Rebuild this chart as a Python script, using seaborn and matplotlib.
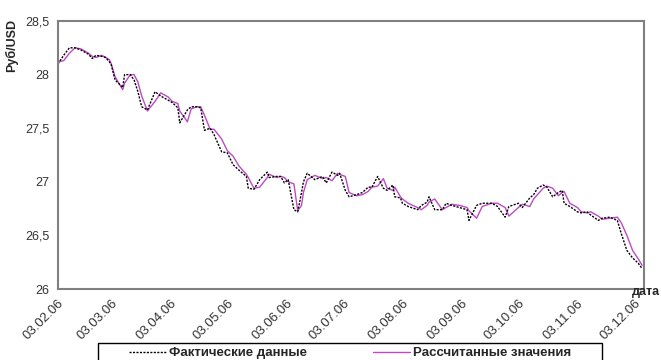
import matplotlib
matplotlib.use("Agg")
import matplotlib.pyplot as plt
import matplotlib.dates as mdates
from matplotlib.patches import Rectangle
from matplotlib.ticker import FuncFormatter, MultipleLocator
import seaborn as sns
import pandas as pd

dates = [
    "03.02.06", "06.02.06", "09.02.06", "12.02.06", "15.02.06", "17.02.06", "19.02.06", "21.02.06",
    "23.02.06", "26.02.06", "28.02.06", "02.03.06", "03.03.06", "05.03.06", "09.03.06", "10.03.06",
    "13.03.06", "15.03.06", "17.03.06", "19.03.06", "22.03.06", "26.03.06", "29.03.06", "02.04.06",
    "04.04.06", "07.04.06", "08.04.06", "12.04.06", "14.04.06", "17.04.06", "19.04.06", "21.04.06",
    "24.04.06", "26.04.06", "30.04.06", "03.05.06", "06.05.06", "09.05.06", "11.05.06", "13.05.06",
    "14.05.06", "17.05.06", "20.05.06", "24.05.06", "25.05.06", "29.05.06", "31.05.06", "02.06.06",
    "04.06.06", "07.06.06", "09.06.06", "11.06.06", "12.06.06", "14.06.06", "18.06.06", "22.06.06",
    "24.06.06", "27.06.06", "30.06.06", "01.07.06", "04.07.06", "06.07.06", "10.07.06", "13.07.06",
    "16.07.06", "18.07.06", "21.07.06", "24.07.06", "26.07.06", "29.07.06", "30.07.06", "02.08.06",
    "03.08.06", "06.08.06", "11.08.06", "13.08.06", "16.08.06", "17.08.06", "20.08.06", "24.08.06",
    "26.08.06", "29.08.06", "02.09.06", "06.09.06", "07.09.06", "11.09.06", "14.09.06", "19.09.06",
    "22.09.06", "26.09.06", "28.09.06", "03.10.06", "05.10.06", "09.10.06", "11.10.06", "13.10.06",
    "16.10.06", "18.10.06", "21.10.06", "24.10.06", "26.10.06", "27.10.06", "30.10.06", "03.11.06",
    "05.11.06", "08.11.06", "10.11.06", "14.11.06", "16.11.06", "20.11.06", "24.11.06", "26.11.06",
    "29.11.06", "02.12.06", "05.12.06", "07.12.06",
]

actual = [
    28.10, 28.18, 28.25, 28.25, 28.23, 28.21, 28.19, 28.15,
    28.18, 28.17, 28.16, 28.12, 28.09, 27.95, 27.88, 28.00,
    28.00, 27.95, 27.84, 27.70, 27.67, 27.84, 27.80, 27.76,
    27.74, 27.69, 27.55, 27.67, 27.70, 27.70, 27.69, 27.48,
    27.50, 27.44, 27.28, 27.27, 27.16, 27.11, 27.08, 27.05,
    26.94, 26.93, 27.02, 27.09, 27.04, 27.05, 27.05, 26.99,
    27.02, 26.74, 26.72, 26.90, 27.00, 27.08, 27.02, 27.05,
    26.99, 27.09, 27.06, 27.08, 26.92, 26.86, 26.88, 26.90,
    26.95, 26.95, 27.05, 26.94, 26.92, 26.97, 26.86, 26.85,
    26.80, 26.77, 26.74, 26.78, 26.81, 26.86, 26.74, 26.74,
    26.80, 26.78, 26.76, 26.74, 26.64, 26.78, 26.80, 26.80,
    26.77, 26.67, 26.77, 26.80, 26.76, 26.85, 26.88, 26.94,
    26.97, 26.95, 26.86, 26.90, 26.92, 26.80, 26.77, 26.72,
    26.71, 26.72, 26.69, 26.64, 26.66, 26.67, 26.64, 26.52,
    26.36, 26.29, 26.24, 26.19,
]

computed = [
    28.12, 28.13, 28.20, 28.25, 28.24, 28.22, 28.20, 28.17,
    28.16, 28.18, 28.16, 28.14, 28.10, 27.98, 27.86, 27.92,
    28.00, 28.00, 27.93, 27.80, 27.66, 27.75, 27.83, 27.79,
    27.75, 27.73, 27.66, 27.56, 27.68, 27.70, 27.70, 27.62,
    27.49, 27.49, 27.40, 27.29, 27.24, 27.15, 27.11, 27.07,
    27.04, 26.94, 26.95, 27.04, 27.07, 27.04, 27.05, 27.04,
    27.00, 26.98, 26.73, 26.78, 26.90, 27.02, 27.06, 27.03,
    27.04, 27.01, 27.08, 27.07, 27.05, 26.90, 26.87, 26.88,
    26.91, 26.95, 26.96, 27.03, 26.94, 26.92, 26.95, 26.86,
    26.84, 26.80, 26.76, 26.74, 26.78, 26.81, 26.84, 26.74,
    26.76, 26.79, 26.78, 26.76, 26.73, 26.66, 26.77, 26.80,
    26.80, 26.76, 26.68, 26.76, 26.79, 26.77, 26.84, 26.88,
    26.94, 26.96, 26.94, 26.87, 26.90, 26.91, 26.80, 26.76,
    26.72, 26.71, 26.72, 26.68, 26.65, 26.66, 26.67, 26.62,
    26.50, 26.36, 26.28, 26.22,
]

df = pd.DataFrame({
    "date": pd.to_datetime(dates, format="%d.%m.%y"),
    "actual": actual,
    "computed": computed,
})

sns.set_style("white")
plt.rcParams["font.family"] = ["Liberation Sans", "DejaVu Sans"]

fig = plt.figure(figsize=(6.61, 3.60), dpi=100)
ax = fig.add_axes([58 / 661, 71 / 360, 586 / 661, 268 / 360])

sns.lineplot(data=df, x="date", y="computed", ax=ax, color="#c048c8", lw=1.0,
             label="Рассчитанные значения")
sns.lineplot(data=df, x="date", y="actual", ax=ax, color="black", lw=1.0,
             linestyle=(0, (1.5, 1)), label="Фактические данные")

ax.set_xlim(pd.Timestamp("2006-02-03"), pd.Timestamp("2006-12-08"))
ax.set_ylim(26, 28.5)
ax.yaxis.set_major_locator(MultipleLocator(0.5))
ax.yaxis.set_major_formatter(FuncFormatter(lambda v, p: f"{v:g}".replace(".", ",")))
ax.xaxis.set_major_locator(mdates.MonthLocator(bymonthday=3))
ax.xaxis.set_major_formatter(mdates.DateFormatter("%d.%m.%y"))

for s in ax.spines.values():
    s.set_color("#808080")
    s.set_linewidth(1.5)

ax.tick_params(axis="both", direction="out", length=4, width=1, color="#808080",
               labelsize=9, labelcolor="#333333", pad=2)
plt.setp(ax.get_xticklabels(), rotation=45, ha="right", rotation_mode="anchor", fontsize=9.5)
ax.set_xlabel("")
ax.set_ylabel("")

fig.text(0.018, 0.875, "Руб/USD", rotation=90, ha="center", va="center",
         fontsize=9, fontweight="bold")
fig.text(0.999, 0.19, "дата", ha="right", va="center", fontsize=9, fontweight="bold")

# legend box (cut off at the bottom as in the source)
fig.patches.append(Rectangle((98 / 661, -0.01), 504 / 661, 17 / 360 + 0.01,
                             transform=fig.transFigure, fill=False,
                             edgecolor="black", lw=1))
handles, labels = ax.get_legend_handles_labels()
ax.get_legend().remove()
fig.legend(handles[::-1], labels[::-1], ncol=2, loc="center", frameon=False,
           bbox_to_anchor=(350 / 661, 7 / 360), prop={"size": 9.5, "weight": "bold"},
           handlelength=2.8, handletextpad=0.25, columnspacing=5.0, borderpad=0)

fig.savefig("out.png", dpi=100)
